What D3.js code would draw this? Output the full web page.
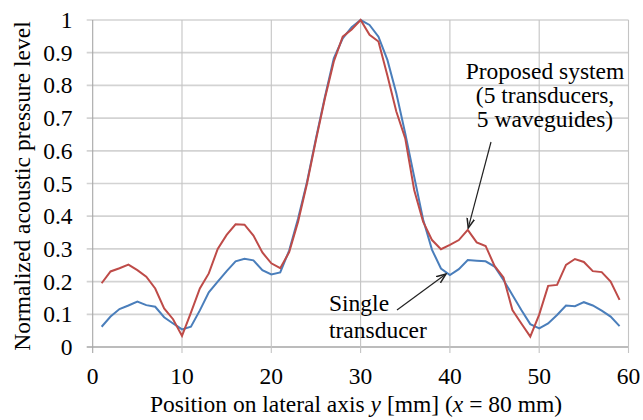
<!DOCTYPE html>
<html>
<head>
<meta charset="utf-8">
<script src="https://cdn.jsdelivr.net/npm/d3@7"></script>
<style>
  body { margin: 0; background: #fff; }
</style>
</head>
<body>
<div id="chart"></div>
<script>
// Lateral positions y [mm]
const positions = d3.range(1, 60);

// Proposed system (5 transducers, 5 waveguides)
const proposed = [
  0.195, 0.231, 0.241, 0.252, 0.235, 0.215, 0.179, 0.118, 0.085, 0.034,
  0.105, 0.179, 0.225, 0.300, 0.343, 0.375, 0.374, 0.341, 0.289, 0.256,
  0.241, 0.290, 0.383, 0.500, 0.633, 0.760, 0.873, 0.949, 0.971, 1.000,
  0.955, 0.934, 0.830, 0.720, 0.638, 0.480, 0.383, 0.327, 0.299, 0.312,
  0.327, 0.358, 0.320, 0.309, 0.248, 0.213, 0.113, 0.072, 0.032, 0.099,
  0.187, 0.190, 0.251, 0.269, 0.260, 0.232, 0.229, 0.200, 0.144
];

// Single transducer
const single = [
  0.062, 0.093, 0.116, 0.127, 0.139, 0.128, 0.123, 0.091, 0.072, 0.054,
  0.062, 0.112, 0.167, 0.200, 0.232, 0.262, 0.270, 0.265, 0.235, 0.222,
  0.228, 0.295, 0.393, 0.505, 0.638, 0.765, 0.883, 0.944, 0.978, 1.000,
  0.985, 0.949, 0.878, 0.776, 0.653, 0.521, 0.390, 0.297, 0.240, 0.220,
  0.238, 0.266, 0.264, 0.262, 0.246, 0.205, 0.159, 0.113, 0.070, 0.057,
  0.072, 0.098, 0.127, 0.125, 0.137, 0.127, 0.111, 0.093, 0.064
];

const xTicks = [0, 10, 20, 30, 40, 50, 60];
const yTicks = d3.range(0, 11).map(i => i / 10);

const width = 643, height = 420;
const plot = { left: 92.7, right: 628.5, top: 20, bottom: 347 };
const serif = "'Liberation Serif', 'Times New Roman', 'DejaVu Serif', serif";
const fs = "23.5px";

const svg = d3.select("#chart").append("svg")
    .attr("width", width)
    .attr("height", height)
    .attr("font-family", serif)
    .attr("font-size", fs);

const x = d3.scaleLinear().domain([0, 60]).range([plot.left, plot.right]);
const y = d3.scaleLinear().domain([0, 1]).range([plot.bottom, plot.top]);

// arrow marker
svg.append("defs").append("marker")
    .attr("id", "arrow")
    .attr("viewBox", "0 0 10 10")
    .attr("refX", 9).attr("refY", 5)
    .attr("markerWidth", 9).attr("markerHeight", 9)
    .attr("orient", "auto")
  .append("path")
    .attr("d", "M0,1.5 L9,5 L0,8.5")
    .attr("fill", "none")
    .attr("stroke", "#222")
    .attr("stroke-width", 1.4);

// horizontal gridlines (with tick stubs on the left)
svg.append("g")
  .selectAll("line")
  .data(yTicks)
  .enter().append("line")
    .attr("x1", plot.left - 6)
    .attr("x2", plot.right)
    .attr("y1", d => y(d))
    .attr("y2", d => y(d))
    .attr("stroke", d => d === 0 ? "#a6a6a6" : "#d3d3d3")
    .attr("stroke-width", 1.7);

// vertical gridlines (with tick stubs below)
svg.append("g")
  .selectAll("line")
  .data(xTicks)
  .enter().append("line")
    .attr("x1", d => x(d))
    .attr("x2", d => x(d))
    .attr("y1", plot.top)
    .attr("y2", plot.bottom + 6)
    .attr("stroke", d => d === 0 ? "#a6a6a6" : "#c4c4c4")
    .attr("stroke-width", 1.1);

// y tick labels
svg.append("g")
  .selectAll("text")
  .data(yTicks)
  .enter().append("text")
    .attr("x", 72.5)
    .attr("y", d => y(d) + 8)
    .attr("text-anchor", "end")
    .text(d => String(+d.toFixed(1)));

// x tick labels
svg.append("g")
  .selectAll("text")
  .data(xTicks)
  .enter().append("text")
    .attr("x", d => x(d))
    .attr("y", 384)
    .attr("text-anchor", "middle")
    .text(d => d);

// axis titles
svg.append("text")
    .attr("transform", "translate(29.5,186) rotate(-90)")
    .attr("text-anchor", "middle")
    .text("Normalized acoustic pressure level");

const xt = svg.append("text")
    .attr("x", 356)
    .attr("y", 412)
    .attr("text-anchor", "middle");
xt.append("tspan").text("Position on lateral axis ");
xt.append("tspan").attr("font-style", "italic").text("y");
xt.append("tspan").text(" [mm]  (");
xt.append("tspan").attr("font-style", "italic").text("x");
xt.append("tspan").text(" = 80 mm)");

// series lines
const line = d3.line()
    .x((d, i) => x(positions[i]))
    .y(d => y(d));

svg.append("path")
    .datum(single)
    .attr("d", line)
    .attr("fill", "none")
    .attr("stroke", "#4a7ebb")
    .attr("stroke-width", 2);

svg.append("path")
    .datum(proposed)
    .attr("d", line)
    .attr("fill", "none")
    .attr("stroke", "#be4b48")
    .attr("stroke-width", 2);

// annotations
const propLines = ["Proposed system", "(5 transducers,", "5 waveguides)"];
svg.append("g")
  .selectAll("text")
  .data(propLines)
  .enter().append("text")
    .attr("x", 545)
    .attr("y", (d, i) => 79 + i * 24)
    .attr("text-anchor", "middle")
    .text(d => d);

svg.append("line")
    .attr("x1", 491).attr("y1", 142)
    .attr("x2", x(42) + 0.5).attr("y2", y(proposed[41]) - 2)
    .attr("stroke", "#222")
    .attr("stroke-width", 1.2)
    .attr("marker-end", "url(#arrow)");

const singleLines = ["Single", "transducer"];
svg.append("g")
  .selectAll("text")
  .data(singleLines)
  .enter().append("text")
    .attr("x", 329)
    .attr("y", (d, i) => 311 + i * 27)
    .text(d => d);

svg.append("line")
    .attr("x1", 397).attr("y1", 310)
    .attr("x2", 446).attr("y2", 274)
    .attr("stroke", "#222")
    .attr("stroke-width", 1.2)
    .attr("marker-end", "url(#arrow)");
</script>
</body>
</html>
